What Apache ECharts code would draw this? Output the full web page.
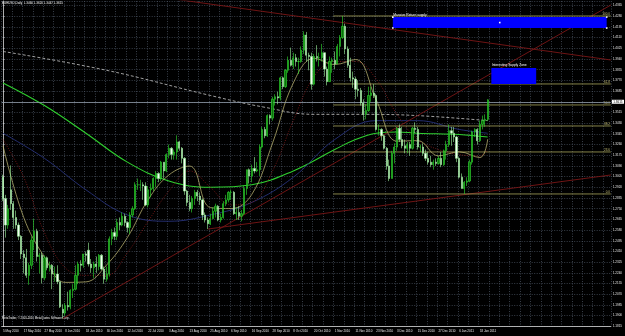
<!DOCTYPE html>
<html><head><meta charset="utf-8">
<script src="https://cdn.jsdelivr.net/npm/echarts@6/dist/echarts.min.js"></script>
<style>html,body{margin:0;padding:0;background:#000;}#c{width:625px;height:336px;}</style>
</head><body><div id="c"></div>
<script>
// ---- data ----
const firstDay = '2010-05-05';
const slotCount = 235;            // weekday slots incl. empty chart-shift area
const candles = [ // [open, high, low, close]
[1.3000,1.3020,1.2810,1.2830],[1.2830,1.2860,1.2520,1.2620],[1.2620,1.2780,1.2590,1.2750],[1.2900,1.3094,1.2740,1.2790],
[1.2790,1.2810,1.2590,1.2680],[1.2680,1.2735,1.2590,1.2620],[1.2620,1.2640,1.2500,1.2530],[1.2530,1.2540,1.2350,1.2390],
[1.2390,1.2420,1.2235,1.2360],[1.2360,1.2430,1.2200,1.2220],[1.2220,1.2320,1.2145,1.2300],[1.2300,1.2530,1.2270,1.2500],
[1.2500,1.2670,1.2420,1.2570],[1.2570,1.2590,1.2330,1.2370],[1.2370,1.2400,1.2235,1.2380],[1.2380,1.2400,1.2155,1.2200],
[1.2200,1.2380,1.2180,1.2360],[1.2360,1.2370,1.2260,1.2280],[1.2280,1.2330,1.2250,1.2300],
[1.2300,1.2310,1.2110,1.2230],[1.2230,1.2290,1.2170,1.2230],[1.2230,1.2300,1.2150,1.2170],[1.2170,1.2170,1.1960,1.1970],
[1.1950,1.1990,1.1876,1.1920],[1.1920,1.2000,1.1900,1.1980],[1.1980,1.2090,1.1940,1.1970],[1.1970,1.2110,1.1950,1.2100],
[1.2100,1.2150,1.2040,1.2110],[1.2110,1.2300,1.2100,1.2220],[1.2220,1.2330,1.2150,1.2310],[1.2310,1.2340,1.2250,1.2300],
[1.2300,1.2390,1.2280,1.2390],[1.2390,1.2410,1.2330,1.2380],[1.2420,1.2480,1.2290,1.2310],[1.2310,1.2350,1.2240,1.2280],
[1.2280,1.2330,1.2200,1.2310],[1.2310,1.2370,1.2240,1.2290],[1.2290,1.2390,1.2260,1.2380],[1.2380,1.2390,1.2260,1.2270],
[1.2270,1.2290,1.2153,1.2190],[1.2190,1.2290,1.2170,1.2230],
[1.2230,1.2530,1.2210,1.2510],[1.2510,1.2590,1.2460,1.2560],[1.2560,1.2600,1.2500,1.2530],[1.2530,1.2670,1.2500,1.2640],
[1.2640,1.2680,1.2580,1.2620],[1.2620,1.2720,1.2610,1.2690],[1.2690,1.2710,1.2610,1.2640],[1.2640,1.2650,1.2560,1.2600],
[1.2600,1.2722,1.2550,1.2700],[1.2700,1.2770,1.2680,1.2750],[1.2750,1.2960,1.2740,1.2940],[1.2940,1.2990,1.2900,1.2940],
[1.2940,1.2980,1.2890,1.2940],[1.2940,1.2960,1.2820,1.2930],[1.2930,1.2960,1.2770,1.2780],[1.2780,1.2930,1.2760,1.2900],
[1.2900,1.2950,1.2840,1.2910],[1.2910,1.3000,1.2890,1.2990],[1.2990,1.3050,1.2920,1.3030],[1.3030,1.3040,1.2960,1.2990],
[1.2990,1.3130,1.2970,1.3120],[1.3120,1.3120,1.2990,1.3050],
[1.3050,1.3190,1.3040,1.3180],[1.3180,1.3260,1.3150,1.3230],[1.3230,1.3240,1.3140,1.3180],[1.3180,1.3220,1.3140,1.3200],
[1.3200,1.3333,1.3140,1.3280],[1.3280,1.3290,1.3210,1.3230],[1.3230,1.3240,1.3110,1.3150],[1.3150,1.3160,1.2860,1.2890],
[1.2890,1.2900,1.2770,1.2800],[1.2800,1.2860,1.2730,1.2750],[1.2750,1.2850,1.2720,1.2830],[1.2830,1.2900,1.2780,1.2880],
[1.2880,1.2900,1.2810,1.2850],[1.2850,1.2880,1.2780,1.2820],[1.2820,1.2830,1.2660,1.2700],[1.2700,1.2720,1.2640,1.2660],
[1.2660,1.2680,1.2588,1.2630],[1.2630,1.2710,1.2620,1.2670],[1.2670,1.2760,1.2670,1.2730],[1.2730,1.2790,1.2680,1.2770],
[1.2770,1.2780,1.2650,1.2660],[1.2660,1.2710,1.2640,1.2680],
[1.2680,1.2810,1.2670,1.2790],[1.2790,1.2860,1.2770,1.2820],[1.2820,1.2890,1.2800,1.2880],[1.2880,1.2900,1.2820,1.2880],
[1.2880,1.2890,1.2700,1.2710],[1.2710,1.2760,1.2660,1.2720],[1.2720,1.2770,1.2660,1.2690],[1.2690,1.2740,1.2650,1.2710],
[1.2710,1.2930,1.2700,1.2910],[1.2910,1.3060,1.2860,1.3060],[1.3060,1.3070,1.2950,1.3010],[1.3010,1.3100,1.2960,1.3070],
[1.3070,1.3160,1.3030,1.3050],[1.3050,1.3120,1.3040,1.3060],[1.3060,1.3260,1.3010,1.3240],[1.3240,1.3400,1.3230,1.3380],
[1.3380,1.3400,1.3310,1.3330],[1.3330,1.3500,1.3320,1.3490],[1.3490,1.3500,1.3420,1.3470],[1.3470,1.3640,1.3450,1.3620],
[1.3620,1.3660,1.3570,1.3640],[1.3640,1.3680,1.3580,1.3630],
[1.3630,1.3800,1.3610,1.3790],[1.3790,1.3800,1.3700,1.3720],[1.3720,1.3860,1.3710,1.3850],[1.3850,1.3960,1.3830,1.3930],
[1.3930,1.4030,1.3880,1.3890],[1.3890,1.3990,1.3860,1.3950],[1.3950,1.3980,1.3880,1.3920],[1.3920,1.3950,1.3820,1.3920],
[1.3920,1.4040,1.3910,1.4010],[1.4010,1.4160,1.3980,1.4130],[1.4130,1.4155,1.3920,1.3970],[1.3970,1.3990,1.3850,1.3960],
[1.3960,1.3990,1.3696,1.3740],[1.3740,1.3980,1.3730,1.3960],[1.3960,1.4050,1.3920,1.3950],[1.3950,1.3990,1.3880,1.3950],
[1.3950,1.4060,1.3920,1.3990],[1.3990,1.3990,1.3800,1.3860],[1.3860,1.3880,1.3730,1.3760],[1.3760,1.3960,1.3760,1.3920],
[1.3920,1.3950,1.3830,1.3930],
[1.3930,1.4000,1.3860,1.3900],[1.3900,1.4060,1.3900,1.4040],[1.4040,1.4130,1.3960,1.4110],[1.4110,1.4282,1.4100,1.4200],
[1.4200,1.4220,1.3980,1.4020],[1.4020,1.4040,1.3870,1.3890],[1.3890,1.3950,1.3760,1.3790],[1.3790,1.3840,1.3710,1.3780],
[1.3780,1.3800,1.3620,1.3700],[1.3700,1.3770,1.3640,1.3690],[1.3690,1.3710,1.3570,1.3590],[1.3590,1.3620,1.3450,1.3500],
[1.3500,1.3580,1.3460,1.3530],[1.3530,1.3720,1.3520,1.3650],[1.3650,1.3720,1.3600,1.3670],[1.3670,1.3740,1.3630,1.3650],
[1.3650,1.3660,1.3370,1.3380],[1.3380,1.3420,1.3330,1.3380],[1.3380,1.3390,1.3290,1.3330],[1.3330,1.3340,1.3220,1.3230],
[1.3230,1.3240,1.3060,1.3090],[1.3090,1.3140,1.2969,1.2990],
[1.2990,1.3210,1.2990,1.3190],[1.3190,1.3270,1.3110,1.3240],[1.3240,1.3400,1.3210,1.3390],[1.3390,1.3420,1.3280,1.3300],
[1.3300,1.3400,1.3230,1.3250],[1.3250,1.3300,1.3190,1.3230],[1.3230,1.3280,1.3190,1.3260],[1.3260,1.3280,1.3170,1.3230],
[1.3230,1.3400,1.3220,1.3390],[1.3390,1.3436,1.3350,1.3380],[1.3380,1.3400,1.3220,1.3240],[1.3240,1.3260,1.3200,1.3240],
[1.3240,1.3270,1.3170,1.3190],[1.3190,1.3220,1.3130,1.3150],[1.3150,1.3200,1.3100,1.3120],[1.3120,1.3170,1.3080,1.3100],
[1.3100,1.3140,1.3060,1.3120],[1.3120,1.3150,1.3090,1.3110],[1.3110,1.3170,1.3100,1.3150],[1.3150,1.3200,1.3080,1.3100],
[1.3100,1.3220,1.3090,1.3210],[1.3210,1.3290,1.3140,1.3260],[1.3260,1.3420,1.3240,1.3370],
[1.3370,1.3400,1.3250,1.3350],[1.3350,1.3400,1.3280,1.3320],[1.3320,1.3330,1.3120,1.3150],[1.3150,1.3160,1.2990,1.3000],
[1.3000,1.3030,1.2910,1.2910],[1.2910,1.2970,1.2867,1.2960],[1.2960,1.3000,1.2930,1.2970],[1.2970,1.3140,1.2960,1.3120],
[1.3120,1.3370,1.3100,1.3360],[1.3360,1.3390,1.3320,1.3380],[1.3380,1.3390,1.3260,1.3290],[1.3290,1.3450,1.3280,1.3420],
[1.3420,1.3490,1.3380,1.3450],[1.3450,1.3500,1.3400,1.3460],[1.3460,1.3620,1.3447,1.3615]
];
// moving averages: [slot index, price]
const maFast = [[0,1.325],[8,1.268],[16,1.2365],[24,1.2164],[32,1.2168],[40,1.2303],[48,1.2521],[56,1.2822],[64,1.3018],[72,1.3089],[80,1.2759],[88,1.2751],[96,1.2864],[104,1.3272],[112,1.3749],[120,1.3945],[128,1.3896],[136,1.3936],[144,1.3614],[152,1.3287],[160,1.3291],[168,1.3170],[176,1.3202],[184,1.3156],[187,1.3302]];
const maRed = [[0,1.330],[8,1.300],[16,1.256],[24,1.228],[32,1.222],[40,1.222],[48,1.240],[56,1.265],[64,1.289],[72,1.305],[80,1.292],[88,1.278],[96,1.280],[104,1.305],[112,1.345],[120,1.380],[128,1.392],[136,1.392],[144,1.378],[152,1.350],[160,1.330],[168,1.322],[176,1.318],[184,1.317],[187,1.322]];
const maBlue = [[0,1.335],[16,1.315],[32,1.290],[48,1.270],[64,1.265],[80,1.270],[96,1.280],[112,1.300],[128,1.330],[144,1.345],[160,1.345],[176,1.338],[187,1.335]];
const maGreen = [[0,1.375],[16,1.357],[32,1.335],[48,1.312],[64,1.297],[80,1.292],[96,1.294],[112,1.305],[128,1.322],[136,1.330],[144,1.335],[152,1.336],[160,1.335],[176,1.334],[187,1.332]];
const maDash = [[0,1.400],[40,1.385],[80,1.365],[100,1.356],[120,1.350],[140,1.350],[160,1.349],[187,1.345]];
// trend lines: [[slot, price],[slot, price]]
const trendLines = [
  [[60,1.4434],[234.5,1.3932]],
  [[79,1.2588],[234.5,1.3018]],
  [[23,1.1876],[234.5,1.4369]]
];
// Fibonacci retracement: anchor slot, low, high, levels
const fibStart = 127.4, fibLow = 1.2867, fibHigh = 1.4282;
const fibLevels = [0, 0.236, 0.382, 0.5, 0.618, 1];
// zones: [slotFrom, slotTo, priceTop, priceBottom, name]
const zones = [[150.4,232.9,1.4273,1.4186,'Massive Return supply'],[188.4,205.7,1.3869,1.3741,'Interesting Supply Zone']];
const bidPrice = 1.3615, redLevel = 1.1842;
const yMin = 1.1815, yMax = 1.4401, yStep = 0.0085;
const title = 'EURUSD,Daily  1.3460 1.3620 1.3447 1.3615';
const copyright = 'MetaTrader, \u00a9 2001-2010 MetaQuotes Software Corp.';

// ---- build ----
const MON = ['Jan','Feb','Mar','Apr','May','Jun','Jul','Aug','Sep','Oct','Nov','Dec'];
const cats = [];
let d = new Date(firstDay + 'T12:00:00Z');
while (cats.length < slotCount) {
  const wd = d.getUTCDay();
  if (wd !== 0 && wd !== 6) cats.push(d.getUTCDate() + ' ' + MON[d.getUTCMonth()] + ' ' + d.getUTCFullYear());
  d = new Date(d.getTime() + 86400000);
}
const nBars = candles.length;
const chart = echarts.init(document.getElementById('c'), null, {renderer: 'canvas'});
const gridCol = '#4d5866';
const lineSeries = (data, color, width, type, z) => ({
  type: 'line', xAxisIndex: 1, data, symbol: 'none', smooth: 0.4, silent: true, z: z || 3,
  lineStyle: {color, width, type: type || 'solid'}
});
const series = [
  lineSeries(maDash, '#c8c8c8', 0.8, [3, 2], 2),
  lineSeries(maGreen, '#2fd02f', 1.1, 'solid', 2),
  lineSeries(maBlue, '#27327a', 0.9, 'solid', 2),
  lineSeries(maRed, '#8a1c1c', 0.8, [1, 1.5], 3),
  lineSeries(maFast, '#c9c27a', 0.7, 'solid', 4),
  ...trendLines.map(t => ({type: 'line', xAxisIndex: 1, data: t, symbol: 'none', silent: true, z: 2,
     lineStyle: {color: '#7a1616', width: 0.9}})),
  {
    type: 'candlestick', xAxisIndex: 0, z: 5, barWidth: 1.7,
    data: candles.map(c => [c[0], c[3], c[2], c[1]]),
    itemStyle: {color: '#0c6e0c', color0: '#f2fff2', borderColor: '#31e031', borderColor0: '#9df59d', borderWidth: 0.6}
  },
  {
    type: 'custom', xAxisIndex: 1, silent: true, z: 3, clip: true,
    data: fibLevels.map(r => [r]),
    renderItem: (params, api) => {
      const r = api.value(0);
      const p = fibLow + r * (fibHigh - fibLow);
      const a = api.coord([fibStart, p]), b = api.coord([234.5, p]);
      return {type: 'group', children: [
        {type: 'line', shape: {x1: a[0], y1: a[1], x2: b[0], y2: b[1]}, style: {stroke: '#a7a45a', lineWidth: 0.8}},
        {type: 'text', style: {text: (r * 100).toFixed(1), x: b[0] - 1, y: a[1] - 0.5, align: 'right', verticalAlign: 'bottom',
          fill: '#c9c27a', font: '3px sans-serif'}}
      ]};
    }
  },
  {
    type: 'custom', xAxisIndex: 1, silent: true, z: 3, clip: false,
    data: zones,
    renderItem: (params, api) => {
      const z = zones[params.dataIndex];
      const a = api.coord([z[0], z[2]]), b = api.coord([z[1], z[3]]);
      const kids = [
        {type: 'rect', shape: {x: a[0], y: a[1], width: b[0] - a[0], height: b[1] - a[1]}, style: {fill: '#0000ff'}},
        {type: 'text', style: {text: z[4], x: a[0] + 0.5, y: a[1] - 1, verticalAlign: 'bottom', fill: '#ffffff', font: '3.3px sans-serif'}}
      ];
      if (params.dataIndex === 0) {
        [[a[0], a[1]], [b[0], a[1]], [a[0], b[1]], [b[0], b[1]], [(a[0] + b[0]) / 2, (a[1] + b[1]) / 2]].forEach(q =>
          kids.push({type: 'rect', shape: {x: q[0] - 0.8, y: q[1] - 0.8, width: 1.6, height: 1.6}, style: {fill: '#ffffff'}}));
      }
      return {type: 'group', children: kids};
    }
  },
  {
    type: 'line', xAxisIndex: 1, data: [], silent: true, z: 6,
    markLine: {
      symbol: 'none', silent: true, animation: false,
      data: [
        {yAxis: bidPrice, lineStyle: {color: '#8f9aa8', width: 0.8, type: 'solid'},
         label: {show: true, position: 'end', formatter: bidPrice.toFixed(4), color: '#000', backgroundColor: '#fff', fontSize: 3, padding: [0.5, 1.5], distance: 1}},
        {yAxis: redLevel, lineStyle: {color: '#b00000', width: 0.9, type: 'solid'},
         label: {show: true, position: 'end', formatter: redLevel.toFixed(4), color: '#fff', backgroundColor: '#e00000', fontSize: 3, padding: [0.5, 1.5], distance: 1}}
      ]
    }
  }
];
chart.setOption({
  backgroundColor: '#000',
  animation: false,
  grid: {left: 0, right: 13, top: 1, bottom: 9.7, containLabel: false},
  xAxis: [{
    type: 'category', data: cats, boundaryGap: true,
    axisLine: {lineStyle: {color: '#d8d8d8', width: 0.8}},
    axisTick: {show: false},
    axisLabel: {interval: 7, color: '#e8e8e8', fontSize: 3, align: 'left', margin: 3,
      formatter: (v, i) => i < nBars ? v : ''},
    splitLine: {show: true, interval: 3, lineStyle: {color: gridCol, width: 0.7, type: [1, 1.5]}}
  }, {
    type: 'value', min: -0.5, max: slotCount - 0.5, show: false
  }],
  yAxis: {
    type: 'value', position: 'right', min: yMin, max: yMax, interval: yStep, scale: true,
    axisLine: {show: true, lineStyle: {color: '#d8d8d8', width: 0.8}},
    axisTick: {show: true, length: 1.5, lineStyle: {color: '#d8d8d8', width: 0.6}},
    axisLabel: {color: '#e8e8e8', fontSize: 3, margin: 2, showMaxLabel: false, formatter: v => v.toFixed(4)},
    splitLine: {show: true, lineStyle: {color: gridCol, width: 0.7, type: [1, 1.5]}}
  },
  graphic: [
    {type: 'text', left: 2, top: 2, style: {text: title, fill: '#ffffff', font: '3px sans-serif'}},
    {type: 'text', left: 2, top: 317, style: {text: copyright, fill: '#ffffff', font: '2.8px sans-serif'}}
  ],
  series
});
</script></body></html>
